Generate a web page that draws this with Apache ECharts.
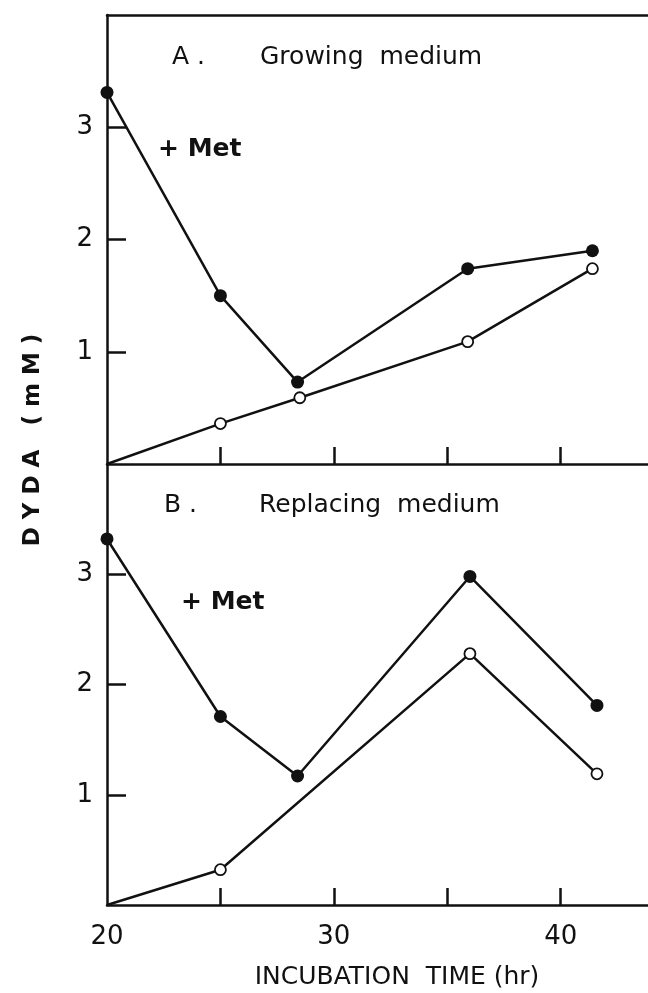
<!DOCTYPE html>
<html>
<head>
<meta charset="utf-8">
<script src="https://cdn.jsdelivr.net/npm/echarts@6/dist/echarts.min.js"></script>
<style>
  html, body { margin: 0; padding: 0; background: #fff; }
  #chart { width: 648px; height: 993px; }
</style>
</head>
<body>
<div id="chart"></div>
<script>
// panel A: growing medium
const growMetX = [20, 25, 28.4, 35.9, 41.4];
const growMetY = [3.31, 1.50, 0.73, 1.74, 1.90];
const growCtrlX = [20, 25, 28.5, 35.9, 41.4];
const growCtrlY = [0, 0.36, 0.59, 1.09, 1.74];
// panel B: replacing medium
const replMetX = [20, 25, 28.4, 36.0, 41.6];
const replMetY = [3.32, 1.71, 1.17, 2.98, 1.81];
const replCtrlX = [20, 25, 36.0, 41.6];
const replCtrlY = [0, 0.32, 2.28, 1.19];

const xTicks = [25, 30, 35, 40];
const xLabels = [20, 30, 40];
const yTicks = [1, 2, 3];

const FONT = 'DejaVu Sans';
const INK = '#111';

function pairs(xs, ys, hideFirst) {
  return xs.map((x, i) => {
    const item = { value: [x, ys[i]] };
    if (hideFirst && i === 0) item.symbol = 'none';
    return item;
  });
}

function xAxisFor(grid, withLabels) {
  return {
    type: 'value', gridIndex: grid, min: 20, max: 43.85, interval: 5,
    axisLine: { show: true, lineStyle: { color: INK, width: 2.5 } },
    axisTick: { show: true, inside: true, length: 17, customValues: xTicks, lineStyle: { color: INK, width: 2.5 } },
    axisLabel: withLabels
      ? { show: true, customValues: xLabels, color: INK, fontFamily: FONT, fontSize: 26, margin: 19 }
      : { show: false },
    splitLine: { show: false }
  };
}

function yAxisFor(grid) {
  return {
    type: 'value', gridIndex: grid, min: 0, max: 4, interval: 1,
    axisLine: { show: true, lineStyle: { color: INK, width: 2.5 } },
    axisTick: { show: true, inside: true, length: 19, customValues: yTicks, lineStyle: { color: INK, width: 2.5 } },
    axisLabel: { show: true, customValues: yTicks, color: INK, fontFamily: FONT, fontSize: 26, margin: 14 },
    splitLine: { show: false }
  };
}

function filled(name, xi, yi, data) {
  return {
    name: name, type: 'line', xAxisIndex: xi, yAxisIndex: yi, data: data,
    symbol: 'circle', symbolSize: 13, showSymbol: true,
    lineStyle: { color: INK, width: 2.5 },
    itemStyle: { color: INK, borderColor: INK, borderWidth: 0 },
    z: 3, animation: false
  };
}

function open(name, xi, yi, data) {
  return {
    name: name, type: 'line', xAxisIndex: xi, yAxisIndex: yi, data: data,
    symbol: 'circle', symbolSize: 11, showSymbol: true,
    lineStyle: { color: INK, width: 2.5 },
    itemStyle: { color: '#fff', borderColor: INK, borderWidth: 1.8 },
    z: 4, animation: false
  };
}

const chart = echarts.init(document.getElementById('chart'), null, { renderer: 'canvas' });

chart.setOption({
  backgroundColor: '#fff',
  animation: false,
  grid: [
    { left: 107, top: 15, width: 541, height: 449 },
    { left: 107, top: 464, width: 541, height: 441 }
  ],
  xAxis: [
    xAxisFor(0, false),
    xAxisFor(1, true),
    {
      type: 'value', gridIndex: 0, position: 'top', min: 20, max: 43.85,
      axisLine: { show: true, lineStyle: { color: INK, width: 2.5 } },
      axisTick: { show: false }, axisLabel: { show: false }, splitLine: { show: false }
    }
  ],
  yAxis: [yAxisFor(0), yAxisFor(1)],
  series: [
    filled('A +Met', 0, 0, pairs(growMetX, growMetY, false)),
    open('A control', 0, 0, pairs(growCtrlX, growCtrlY, true)),
    filled('B +Met', 1, 1, pairs(replMetX, replMetY, false)),
    open('B control', 1, 1, pairs(replCtrlX, replCtrlY, true))
  ],
  graphic: [
    { type: 'text', left: 172, top: 45, style: { text: 'A .', font: '25px "DejaVu Sans"', fill: INK } },
    { type: 'text', left: 260, top: 45, style: { text: 'Growing  medium', font: '25px "DejaVu Sans"', fill: INK } },
    { type: 'text', left: 158, top: 137, style: { text: '+ Met', font: 'bold 25px "DejaVu Sans"', fill: INK } },
    { type: 'text', left: 164, top: 493, style: { text: 'B .', font: '25px "DejaVu Sans"', fill: INK } },
    { type: 'text', left: 259, top: 493, style: { text: 'Replacing  medium', font: '25px "DejaVu Sans"', fill: INK } },
    { type: 'text', left: 181, top: 590, style: { text: '+ Met', font: 'bold 25px "DejaVu Sans"', fill: INK } },
    {
      type: 'text', x: 33, y: 440, rotation: Math.PI / 2,
      style: { text: 'D Y D A   ( m M )', font: 'bold 23px "DejaVu Sans"', fill: INK, align: 'center', verticalAlign: 'middle' }
    },
    {
      type: 'text', x: 397, y: 977,
      style: { text: 'INCUBATION  TIME (hr)', font: '25px "DejaVu Sans"', fill: INK, align: 'center', verticalAlign: 'middle' }
    }
  ]
});
</script>
</body>
</html>
